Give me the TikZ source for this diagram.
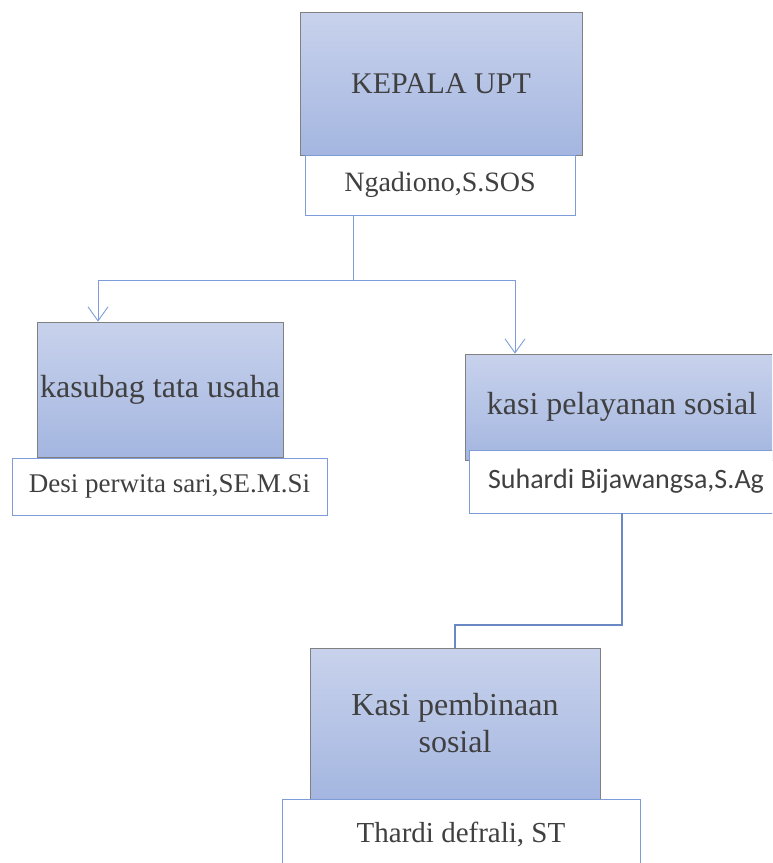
\documentclass[tikz,border=0pt]{standalone}
\usepackage{fontspec}
\setmainfont{Liberation Serif}
\newfontfamily\carlito{Carlito}
\usepackage{xcolor}
\usetikzlibrary{arrows.meta}

\definecolor{boxtop}{HTML}{C8D2EC}
\definecolor{boxbot}{HTML}{A4B6E0}
\definecolor{boxline}{HTML}{808080}
\definecolor{nameline}{HTML}{7E9DD8}
\definecolor{linktebal}{HTML}{6A89C4}
\definecolor{teks}{HTML}{404040}

\tikzset{
jabatan/.style={draw=boxline, line width=0.8pt, top color=boxtop, bottom color=boxbot, text=teks, inner sep=0pt, align=center},
nama/.style={draw=nameline, line width=0.8pt, fill=white, text=teks, inner sep=0pt},
garis/.style={draw=nameline, line width=0.9pt},
tebal/.style={draw=linktebal, line width=1.8pt},
panah/.style={garis, -{Straight Barb[length=14pt, width=20pt, line width=0.9pt]}}
}

\begin{document}
\begin{tikzpicture}[x=1pt,y=-1pt]

\useasboundingbox (0,0) rectangle (772,863);
\clip (0,0) rectangle (772,863);

% jabatan
\node[jabatan, minimum width=282pt, minimum height=143pt, font=\fontsize{30}{30}\selectfont] (kepala) at (441,83.5) {KEPALA UPT};
\node[jabatan, minimum width=246pt, minimum height=135pt, font=\fontsize{32}{32}\selectfont] (kasubag) at (160,389.5) {kasubag tata usaha};
\node[jabatan, minimum width=314pt, minimum height=106pt, font=\fontsize{32}{32}\selectfont] (pelayanan) at (622,407) {kasi pelayanan sosial};
\node[jabatan, minimum width=290pt, minimum height=151pt, font=\fontsize{32}{36}\selectfont] (pembinaan) at (455,723.5) {Kasi pembinaan\\[1pt]sosial};

% nama pejabat
\node[nama, minimum width=270pt, minimum height=60pt, font=\fontsize{28}{28}\selectfont] (ngadiono) at (440,185) {Ngadiono,S.SOS};
\node[nama, minimum width=315pt, minimum height=57pt, font=\fontsize{27}{27}\selectfont] (desi) at (169.5,486.5) {Desi perwita sari,SE.M.Si};
\node[nama, minimum width=314pt, minimum height=63pt, font=\carlito\fontsize{28}{28}\selectfont] (suhardi) at (626,481.5) {Suhardi Bijawangsa,S.Ag};
\node[nama, minimum width=358pt, minimum height=72pt, font=\fontsize{29}{29}\selectfont] (thardi) at (461,835) {Thardi defrali, ST};

% garis
\coordinate (cabang) at (353,280);
\coordinate (kiri) at (98,280);
\coordinate (kanan) at (515,280);
\coordinate (belok) at (622,625);

\draw[garis] (cabang |- ngadiono.south) -- (cabang);
\draw[garis] (kiri) -- (kanan);
\draw[panah] (kiri) -- (kiri |- kasubag.north);
\draw[panah] (kanan) -- (kanan |- pelayanan.north);
\draw[tebal] (belok |- suhardi.south) -- (belok) -| (pembinaan.north);

\end{tikzpicture}
\end{document}
